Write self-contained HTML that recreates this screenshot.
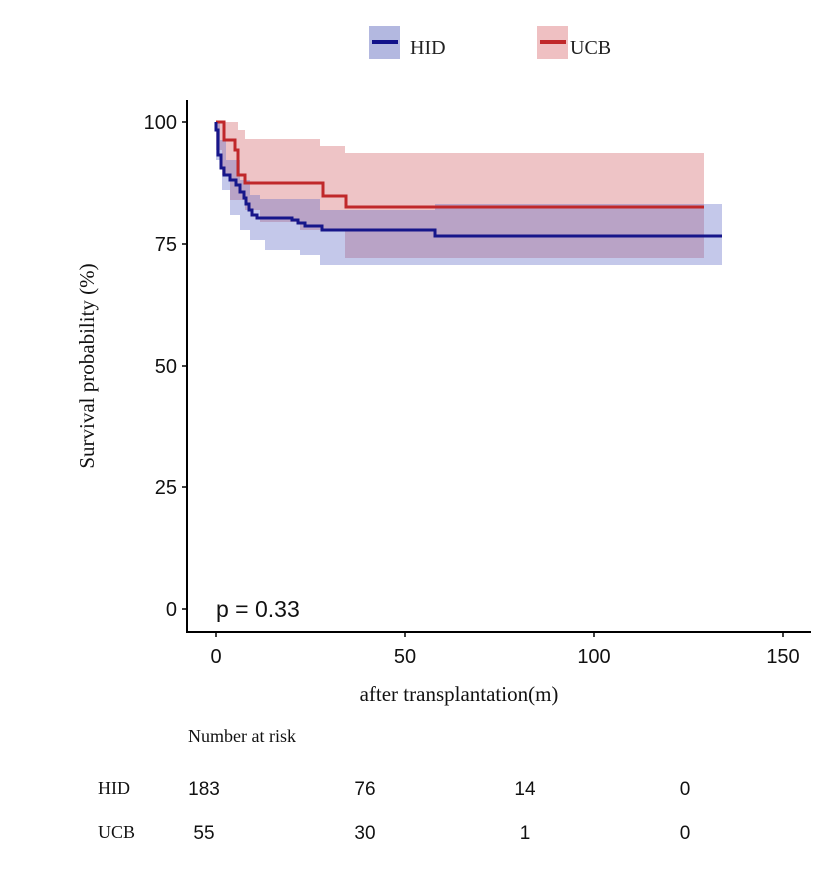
<!DOCTYPE html><html><head><style>body{margin:0;background:#fff}svg{display:block}</style></head><body>
<svg width="823" height="887" xmlns="http://www.w3.org/2000/svg">
<rect width="823" height="887" fill="#fff"/>
<!-- legend -->
<rect x="369" y="26" width="31" height="33" fill="#b3b8e0"/>
<line x1="372" y1="42" x2="398" y2="42" stroke="#12128a" stroke-width="4"/>
<text x="410" y="54" font-family="Liberation Serif,serif" font-size="20" fill="#222">HID</text>
<rect x="537" y="26" width="31" height="33" fill="#efc0c2"/>
<line x1="540" y1="42" x2="566" y2="42" stroke="#c0282a" stroke-width="4"/>
<text x="570" y="54" font-family="Liberation Serif,serif" font-size="20" fill="#222">UCB</text>
<!-- bands -->
<path d="M216,122 H238 V130 H245 V139 H320 V146 H345 V153 H704 V258 H345 V230 H300 V222 H260 V210 H245 V200 H230 V175 H222 V150 H216 Z" fill="rgba(210,100,105,0.38)"/>
<path d="M216,122 H220 V140 H226 V160 H240 V180 H250 V195 H260 V199 H320 V210 H435 V204 H722 V265 H435 V265 H320 V255 H300 V250 H265 V240 H250 V230 H240 V215 H230 V190 H222 V160 H216 Z" fill="rgba(100,110,200,0.38)"/>
<!-- lines -->
<path d="M216,122 H224 V140 H235 V150 H238 V175 H245 V183 H323 V196 H346 V207 H704" fill="none" stroke="#c0282a" stroke-width="3"/>
<path d="M216,122 V130 H218 V155 H221 V168 H224 V175 H230 V180 H236 V185 H240 V192 H244 V198 H246 V204 H249 V210 H252 V215 H257 V218 H292 V220 H298 V223 H305 V226 H322 V230 H435 V236 H722" fill="none" stroke="#16168a" stroke-width="3"/>
<!-- axes -->
<line x1="187" y1="100" x2="187" y2="633" stroke="#000" stroke-width="2"/>
<line x1="186" y1="632" x2="811" y2="632" stroke="#000" stroke-width="2"/>
<g stroke="#000" stroke-width="1.5">
<line x1="182" y1="122" x2="187" y2="122"/><line x1="182" y1="244" x2="187" y2="244"/><line x1="182" y1="366" x2="187" y2="366"/><line x1="182" y1="487" x2="187" y2="487"/><line x1="182" y1="609" x2="187" y2="609"/>
<line x1="216" y1="632" x2="216" y2="637"/><line x1="405" y1="632" x2="405" y2="637"/><line x1="594" y1="632" x2="594" y2="637"/><line x1="783" y1="632" x2="783" y2="637"/>
</g>
<g font-family="Liberation Sans,sans-serif" font-size="20" fill="#111" text-anchor="end">
<text x="177" y="129">100</text><text x="177" y="251">75</text><text x="177" y="373">50</text><text x="177" y="494">25</text><text x="177" y="616">0</text>
</g>
<g font-family="Liberation Sans,sans-serif" font-size="20" fill="#111" text-anchor="middle">
<text x="216" y="663">0</text><text x="405" y="663">50</text><text x="594" y="663">100</text><text x="783" y="663">150</text>
</g>
<text x="216" y="617" font-family="Liberation Sans,sans-serif" font-size="23" fill="#111">p = 0.33</text>
<text transform="translate(94,366) rotate(-90)" text-anchor="middle" font-family="Liberation Serif,serif" font-size="21" fill="#111">Survival probability (%)</text>
<text x="459" y="701" text-anchor="middle" font-family="Liberation Serif,serif" font-size="21" fill="#111">after  transplantation(m)</text>
<text x="188" y="742" font-family="Liberation Serif,serif" font-size="18" fill="#111">Number at risk</text>
<g font-family="Liberation Serif,serif" font-size="18" fill="#111">
<text x="98" y="794">HID</text><text x="98" y="838">UCB</text>
</g>
<g font-family="Liberation Sans,sans-serif" font-size="19" fill="#111" text-anchor="middle">
<text x="204" y="795">183</text><text x="365" y="795">76</text><text x="525" y="795">14</text><text x="685" y="795">0</text>
<text x="204" y="839">55</text><text x="365" y="839">30</text><text x="525" y="839">1</text><text x="685" y="839">0</text>
</g>
</svg></body></html>
